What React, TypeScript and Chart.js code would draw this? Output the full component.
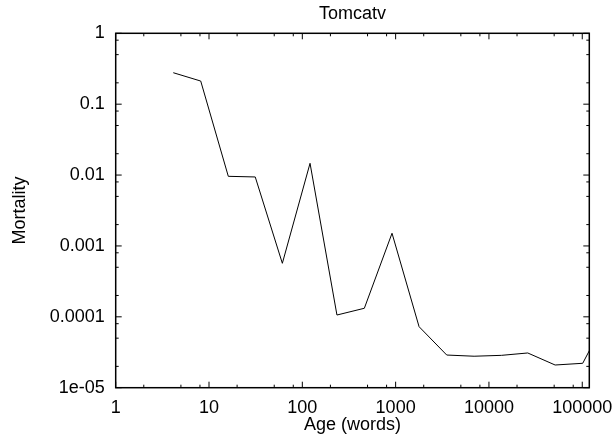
import React, { useEffect, useRef } from "react";
import { Chart, registerables } from "chart.js";

Chart.register(...registerables);

const title = "Tomcatv";
const xTitle = "Age (words)";
const yTitle = "Mortality";

const ages = [4.14, 8.15, 16.1, 31.3, 61.1, 121, 235, 462, 915, 1783, 3530, 6930, 13600, 26060, 51200, 101200, 199000];
const mortality = [0.278, 0.212, 0.0096, 0.0094, 0.000569, 0.01465, 0.000106, 0.000132, 0.00151, 7.26e-5, 2.89e-5, 2.78e-5, 2.86e-5, 3.09e-5, 2.09e-5, 2.21e-5, 1.21e-4];

const xTickValues = [1, 10, 100, 1000, 10000, 100000];
const xTickLabels = ["1", "10", "100", "1000", "10000", "100000"];
const yTickValues = [1, 0.1, 0.01, 0.001, 0.0001, 0.00001];
const yTickLabels = ["1", "0.1", "0.01", "0.001", "0.0001", "1e-05"];
const minorMultipliers = [2, 5, 8];

const xMin = 1;
const xMax = 119000;
const yMin = 1e-5;
const yMax = 1;

const FONT = "'Liberation Sans', Arial, Helvetica, sans-serif";
const FS = 18;

const framePlugin = {
  id: "gnuFrame",
  afterDraw(chart: any) {
    const { ctx, chartArea, scales } = chart;
    const { left, right, top, bottom } = chartArea;
    const xs = scales.x;
    const ys = scales.y;
    ctx.save();
    ctx.strokeStyle = "#000";
    ctx.lineWidth = 1;
    const line = (x1: number, y1: number, x2: number, y2: number) => {
      ctx.beginPath();
      ctx.moveTo(x1, y1);
      ctx.lineTo(x2, y2);
      ctx.stroke();
    };
    const major = 6;
    const minor = 3;
    for (const v of xTickValues) {
      const px = xs.getPixelForValue(v);
      line(px, bottom, px, bottom - major);
      line(px, top, px, top + major);
      for (const m of minorMultipliers) {
        const mv = v * m;
        if (mv > xMax) continue;
        const mp = xs.getPixelForValue(mv);
        line(mp, bottom, mp, bottom - minor);
        line(mp, top, mp, top + minor);
      }
    }
    for (const v of yTickValues) {
      const py = ys.getPixelForValue(v);
      line(left, py, left + major, py);
      line(right, py, right - major, py);
      for (const m of minorMultipliers) {
        const mv = v * m;
        if (mv >= yMax) continue;
        const mp = ys.getPixelForValue(mv);
        line(left, mp, left + minor, mp);
        line(right, mp, right - minor, mp);
      }
    }
    ctx.lineWidth = 1.5;
    ctx.strokeRect(left, top, right - left, bottom - top);
    ctx.restore();
  },
};

export default function App() {
  const canvasRef = useRef<HTMLCanvasElement | null>(null);

  useEffect(() => {
    const canvas = canvasRef.current;
    if (!canvas) return;
    Chart.defaults.font.family = FONT;
    Chart.defaults.color = "#000";
    const chart = new Chart(canvas, {
      type: "line",
      data: {
        datasets: [
          {
            label: title,
            data: ages.map((a, i) => ({ x: a, y: mortality[i] })),
            borderColor: "#000",
            borderWidth: 1,
            pointRadius: 0,
            tension: 0,
            fill: false,
          },
        ],
      },
      options: {
        responsive: false,
        animation: false,
        layout: { padding: { left: 0, right: 25.7, top: 0, bottom: 0 } },
        plugins: {
          legend: { display: false },
          tooltip: { enabled: false },
          title: { display: false },
        },
        scales: {
          x: {
            type: "logarithmic",
            min: xMin,
            max: xMax,
            grid: { display: false, drawTicks: false },
            border: { display: false },
            afterBuildTicks: (scale: any) => {
              scale.ticks = xTickValues.map((v) => ({ value: v }));
            },
            afterFit: (scale: any) => {
              scale.height = 50.3;
              scale.paddingLeft = 0;
              scale.paddingRight = 0;
            },
            ticks: {
              autoSkip: false,
              maxRotation: 0,
              padding: 10,
              color: "#000",
              font: { size: FS, family: FONT },
              callback: (value: any) => {
                const i = xTickValues.indexOf(Number(value));
                return i >= 0 ? xTickLabels[i] : "";
              },
            },
            title: {
              display: true,
              text: xTitle,
              color: "#000",
              font: { size: FS, family: FONT },
              padding: { top: 0, bottom: 2 },
            },
          },
          x2: {
            type: "linear",
            position: "top",
            min: 0,
            max: 1,
            grid: { display: false, drawTicks: false },
            border: { display: false },
            ticks: { display: false },
            afterFit: (scale: any) => {
              scale.height = 33.3;
              scale.paddingLeft = 0;
              scale.paddingRight = 0;
            },
            title: {
              display: true,
              text: title,
              color: "#000",
              font: { size: FS, family: FONT },
              padding: { top: 3, bottom: 0 },
            },
          },
          y: {
            type: "logarithmic",
            min: yMin,
            max: yMax,
            grid: { display: false, drawTicks: false },
            border: { display: false },
            afterBuildTicks: (scale: any) => {
              scale.ticks = yTickValues.map((v) => ({ value: v }));
            },
            afterFit: (scale: any) => {
              scale.width = 115.7;
              scale.paddingTop = 0;
              scale.paddingBottom = 0;
            },
            ticks: {
              autoSkip: false,
              padding: 11,
              color: "#000",
              font: { size: FS, family: FONT },
              callback: (value: any) => {
                const v = Number(value);
                const i = yTickValues.findIndex((t) => Math.abs(t - v) / t < 1e-6);
                return i >= 0 ? yTickLabels[i] : "";
              },
            },
            title: {
              display: true,
              text: yTitle,
              color: "#000",
              font: { size: FS, family: FONT },
              padding: { top: 9, bottom: 0 },
            },
          },
        },
      },
      plugins: [framePlugin],
    } as any);
    return () => chart.destroy();
  }, []);

  return (
    <div style={{ position: "fixed", left: 0, top: 0, width: 615, height: 438, background: "#fff" }}>
      <canvas ref={canvasRef} width={615} height={438} />
    </div>
  );
}
